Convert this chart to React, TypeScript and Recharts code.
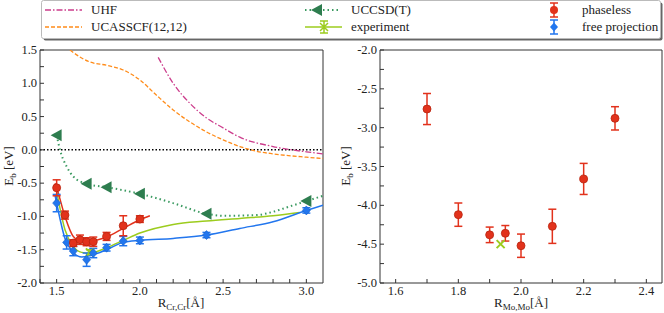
import { ComposedChart, Line, Scatter, ErrorBar, XAxis, YAxis, ReferenceLine, ReferenceArea } from 'recharts';

// ---- left panel: Cr2 ----
const phaselessR = [1.5, 1.55, 1.6, 1.64, 1.68, 1.72, 1.8, 1.9, 2.0];
const phaselessE = [-0.57, -0.98, -1.4, -1.35, -1.38, -1.38, -1.3, -1.14, -1.04];
const phaselessErr = [0.12, 0.06, 0.05, 0.07, 0.06, 0.07, 0.06, 0.15, 0.05];

const freeR = [1.5, 1.56, 1.6, 1.68, 1.72, 1.8, 1.9, 2.0, 2.4, 3.0];
const freeE = [-0.8, -1.39, -1.52, -1.65, -1.55, -1.47, -1.37, -1.36, -1.28, -0.91];
const freeErr = [0.13, 0.1, 0.07, 0.1, 0.07, 0.05, 0.07, 0.05, 0.04, 0.04];

const phaselessFitR = [1.49, 1.5, 1.55, 1.6, 1.65, 1.7, 1.8, 1.9, 2.0, 2.06];
const phaselessFitE = [-0.5, -0.57, -1.0, -1.3, -1.37, -1.37, -1.31, -1.18, -1.05, -0.99];

const freeFitR = [1.49, 1.5, 1.55, 1.6, 1.65, 1.7, 1.8, 1.9, 2.0, 2.2, 2.4, 2.6, 2.8, 3.0, 3.1];
const freeFitE = [-0.68, -0.8, -1.33, -1.54, -1.61, -1.59, -1.5, -1.39, -1.36, -1.33, -1.28, -1.18, -1.08, -0.91, -0.83];

const expFitR = [1.5, 1.55, 1.6, 1.65, 1.7, 1.8, 1.9, 2.0, 2.2, 2.4, 2.6, 2.8, 2.96];
const expFitE = [-0.62, -1.2, -1.45, -1.54, -1.55, -1.47, -1.36, -1.25, -1.12, -1.07, -1.03, -0.99, -0.94];
const expCrR = [1.7];
const expCrE = [-1.54];
const expCrErr = [0.04];

const ccsdR = [1.5, 1.68, 1.8, 2.0, 2.4, 3.0];
const ccsdE = [0.22, -0.51, -0.56, -0.66, -0.96, -0.77];
const ccsdCurveR = [1.5, 1.52, 1.56, 1.6, 1.68, 1.8, 2.0, 2.2, 2.4, 2.5, 2.7, 2.8, 2.9, 3.0, 3.1];
const ccsdCurveE = [0.22, 0.0, -0.25, -0.4, -0.51, -0.56, -0.66, -0.8, -0.96, -0.99, -0.98, -0.93, -0.85, -0.77, -0.69];

const uhfR = [2.11, 2.2, 2.3, 2.4, 2.5, 2.6, 2.8, 3.0, 3.1];
const uhfE = [1.39, 1.0, 0.7, 0.48, 0.33, 0.19, 0.05, -0.03, -0.06];

const casR = [1.58, 1.65, 1.7, 1.8, 1.9, 2.0, 2.1, 2.2, 2.3, 2.4, 2.5, 2.6, 2.7, 2.8, 3.0, 3.1];
const casE = [1.5, 1.38, 1.32, 1.27, 1.2, 1.05, 0.82, 0.6, 0.42, 0.27, 0.15, 0.05, -0.02, -0.06, -0.11, -0.13];

const crXTicks = [1.4, 1.5, 1.6, 1.7, 1.8, 1.9, 2.0, 2.1, 2.2, 2.3, 2.4, 2.5, 2.6, 2.7, 2.8, 2.9, 3.0];
const crXLabels = [1.5, 2.0, 2.5, 3.0];
const crYTicks = [-2, -1.75, -1.5, -1.25, -1, -0.75, -0.5, -0.25, 0, 0.25, 0.5, 0.75, 1, 1.25, 1.5];
const crYLabels = [-2, -1.5, -1, -0.5, 0, 0.5, 1, 1.5];

// ---- right panel: Mo2 ----
const moR = [1.7, 1.8, 1.9, 1.95, 2.0, 2.1, 2.2, 2.3];
const moE = [-2.76, -4.12, -4.38, -4.36, -4.52, -4.27, -3.66, -2.88];
const moErr = [0.2, 0.15, 0.1, 0.1, 0.15, 0.22, 0.2, 0.15];
const expMoR = [1.935];
const expMoE = [-4.5];

const moXTicks = [1.6, 1.7, 1.8, 1.9, 2.0, 2.1, 2.2, 2.3, 2.4];
const moXLabels = [1.6, 1.8, 2.0, 2.2, 2.4];
const moYTicks = [-5, -4.75, -4.5, -4.25, -4, -3.75, -3.5, -3.25, -3, -2.75, -2.5, -2.25, -2];
const moYLabels = [-5, -4.5, -4, -3.5, -3, -2.5, -2];

const RED = '#e2321c';
const BLUE = '#2276ee';
const GREEN = '#2e7d4f';
const LIME = '#9ccc1e';
const ORANGE = '#ff8c1a';
const MAGENTA = '#cc3d8c';
const FONT = '"Liberation Serif", "DejaVu Serif", serif';

const pts = (xs: number[], ys: number[], errs?: number[]) =>
  xs.map((x, i) => ({ x, y: ys[i], err: errs ? errs[i] : 0 }));

const near = (list: number[], v: number) => list.some((l) => Math.abs(l - v) < 1e-6);

const XTick = ({ x, y, payload, labels }: any) => (
  <g>
    <line x1={x} x2={x} y1={y} y2={y - 4} stroke="#333" />
    {near(labels, payload.value) && (
      <text x={x} y={y + 12} textAnchor="middle" fontSize={12.5} fontFamily={FONT} fill="#222">
        {payload.value.toFixed(1)}
      </text>
    )}
  </g>
);

const YTick = ({ x, y, payload, labels }: any) => (
  <g>
    <line x1={x} x2={x + 4} y1={y} y2={y} stroke="#333" />
    {near(labels, payload.value) && (
      <text x={x - 3} y={y + 4} textAnchor="end" fontSize={12.5} fontFamily={FONT} fill="#222">
        {payload.value.toFixed(1)}
      </text>
    )}
  </g>
);

const Circle = ({ cx, cy }: any) => <circle cx={cx} cy={cy} r={4} fill={RED} stroke="#b8240f" strokeWidth={0.8} />;
const Diamond = ({ cx, cy }: any) => (
  <path d={`M${cx},${cy - 4.5} L${cx + 4},${cy} L${cx},${cy + 4.5} L${cx - 4},${cy} Z`} fill={BLUE} stroke="#1660c8" strokeWidth={0.6} />
);
const Tri = ({ cx, cy }: any) => (
  <path d={`M${cx - 6},${cy} L${cx + 5},${cy - 6} L${cx + 5},${cy + 6} Z`} fill={GREEN} />
);
const Cross = ({ cx, cy }: any) => (
  <path d={`M${cx - 4},${cy - 4} L${cx + 4},${cy + 4} M${cx - 4},${cy + 4} L${cx + 4},${cy - 4}`} stroke={LIME} strokeWidth={2} />
);

const CrChart = () => (
  <ComposedChart width={330} height={313} margin={{ top: 50, right: 7, bottom: 0, left: 0 }}>
    <XAxis
      dataKey="x"
      type="number"
      domain={[1.4, 3.1]}
      ticks={crXTicks}
      interval={0}
      tick={<XTick labels={crXLabels} />}
      tickSize={0}
      tickMargin={0}
      axisLine={false}
      tickLine={false}
      height={30}
      allowDataOverflow
    />
    <YAxis
      type="number"
      domain={[-2, 1.5]}
      ticks={crYTicks}
      interval={0}
      tick={<YTick labels={crYLabels} />}
      tickSize={0}
      tickMargin={0}
      axisLine={false}
      tickLine={false}
      width={40}
      allowDataOverflow
    />
    <ReferenceArea x1={1.4} x2={3.1} y1={-2} y2={1.5} fill="none" stroke="#333" strokeWidth={1} />
    <ReferenceLine y={0} stroke="#000" strokeWidth={1.5} strokeDasharray="1.5 2" />
    <Line data={pts(uhfR, uhfE)} dataKey="y" type="monotone" stroke={MAGENTA} strokeWidth={1.3} strokeDasharray="6 2 1.5 2" dot={false} isAnimationActive={false} />
    <Line data={pts(casR, casE)} dataKey="y" type="monotone" stroke={ORANGE} strokeWidth={1.3} strokeDasharray="4 2" dot={false} isAnimationActive={false} />
    <Line data={pts(ccsdCurveR, ccsdCurveE)} dataKey="y" type="monotone" stroke="#3a9a60" strokeWidth={2} strokeDasharray="1.5 3" dot={false} isAnimationActive={false} />
    <Scatter data={pts(ccsdR, ccsdE)} dataKey="y" shape={<Tri />} isAnimationActive={false} />
    <Line data={pts(expFitR, expFitE)} dataKey="y" type="monotone" stroke={LIME} strokeWidth={1.5} dot={false} isAnimationActive={false} />
    <Scatter data={pts(expCrR, expCrE, expCrErr)} dataKey="y" shape={<Cross />} isAnimationActive={false}>
      <ErrorBar dataKey="err" direction="y" width={4} stroke={LIME} strokeWidth={1.5} />
    </Scatter>
    <Line data={pts(freeFitR, freeFitE)} dataKey="y" type="monotone" stroke={BLUE} strokeWidth={1.5} dot={false} isAnimationActive={false} />
    <Line data={pts(phaselessFitR, phaselessFitE)} dataKey="y" type="monotone" stroke={RED} strokeWidth={1.5} dot={false} isAnimationActive={false} />
    <Scatter data={pts(freeR, freeE, freeErr)} dataKey="y" shape={<Diamond />} isAnimationActive={false}>
      <ErrorBar dataKey="err" direction="y" width={4} stroke={BLUE} strokeWidth={1.5} />
    </Scatter>
    <Scatter data={pts(phaselessR, phaselessE, phaselessErr)} dataKey="y" shape={<Circle />} isAnimationActive={false}>
      <ErrorBar dataKey="err" direction="y" width={4} stroke={RED} strokeWidth={1.5} />
    </Scatter>
  </ComposedChart>
);

const MoChart = () => (
  <ComposedChart width={334} height={313} margin={{ top: 50, right: 2, bottom: 0, left: 0 }}>
    <XAxis
      dataKey="x"
      type="number"
      domain={[1.55, 2.45]}
      ticks={moXTicks}
      interval={0}
      tick={<XTick labels={moXLabels} />}
      tickSize={0}
      tickMargin={0}
      axisLine={false}
      tickLine={false}
      height={30}
      allowDataOverflow
    />
    <YAxis
      type="number"
      domain={[-5, -2]}
      ticks={moYTicks}
      interval={0}
      tick={<YTick labels={moYLabels} />}
      tickSize={0}
      tickMargin={0}
      axisLine={false}
      tickLine={false}
      width={50}
      allowDataOverflow
    />
    <ReferenceArea x1={1.55} x2={2.45} y1={-5} y2={-2} fill="none" stroke="#333" strokeWidth={1} />
    <Scatter data={pts(expMoR, expMoE)} dataKey="y" shape={<Cross />} isAnimationActive={false} />
    <Scatter data={pts(moR, moE, moErr)} dataKey="y" shape={<Circle />} isAnimationActive={false}>
      <ErrorBar dataKey="err" direction="y" width={4} stroke={RED} strokeWidth={1.5} />
    </Scatter>
  </ComposedChart>
);

const Overlay = () => (
  <svg width={664} height={313} style={{ position: 'absolute', left: 0, top: 0, pointerEvents: 'none' }} fontFamily={FONT}>
    {/* legend box */}
    <rect x={43.5} y={2.5} width={619} height={38} rx={2} fill="#666" />
    <rect x={41.5} y={0.5} width={619} height={38} rx={2} fill="#fff" stroke="#bbb" />
    <line x1={45} x2={82} y1={10} y2={10} stroke={MAGENTA} strokeWidth={1.3} strokeDasharray="6 2 1.5 2" />
    <text x={91} y={14} fontSize={13} fill="#222">UHF</text>
    <line x1={45} x2={82} y1={27} y2={27} stroke={ORANGE} strokeWidth={1.3} strokeDasharray="4 2" />
    <text x={91} y={31} fontSize={13} fill="#222">UCASSCF(12,12)</text>

    <line x1={305} x2={340} y1={10} y2={10} stroke="#3a9a60" strokeWidth={2} strokeDasharray="1.5 3" />
    <path d="M311,10 L322,4 L322,16 Z" fill={GREEN} />
    <text x={351} y={14} fontSize={13} fill="#222">UCCSD(T)</text>
    <line x1={305} x2={342} y1={27} y2={27} stroke={LIME} strokeWidth={1.5} />
    <path d="M320,23 L328,31 M320,31 L328,23 M324,21 L324,33 M320,21 L328,21 M320,33 L328,33" stroke={LIME} strokeWidth={1.5} />
    <text x={351} y={31} fontSize={13} fill="#222">experiment</text>

    <path d="M554,3 L554,17 M550,3 L558,3 M550,17 L558,17" stroke={RED} strokeWidth={1.5} />
    <circle cx={554} cy={10} r={4} fill={RED} />
    <text x={582} y={14} fontSize={13} fill="#222">phaseless</text>
    <path d="M554,20 L554,34 M550,20 L558,20 M550,34 L558,34" stroke={BLUE} strokeWidth={1.5} />
    <path d="M554,22.5 L558,27 L554,31.5 L550,27 Z" fill={BLUE} />
    <text x={582} y={31} fontSize={13} fill="#222">free projection</text>

    {/* axis titles */}
    <text x={181} y={307} textAnchor="middle" fontSize={13} fill="#222">
      R<tspan fontSize={9} dy={3}>Cr,Cr</tspan><tspan dy={-3}>[Å]</tspan>
    </text>
    <text x={521} y={307} textAnchor="middle" fontSize={13} fill="#222">
      R<tspan fontSize={9} dy={3}>Mo,Mo</tspan><tspan dy={-3}>[Å]</tspan>
    </text>
    <text x={13} y={166} textAnchor="middle" fontSize={13} fill="#222" transform="rotate(-90 13 166)">
      E<tspan fontSize={9} dy={3}>b</tspan><tspan dy={-3}> [eV]</tspan>
    </text>
    <text x={350} y={166} textAnchor="middle" fontSize={13} fill="#222" transform="rotate(-90 350 166)">
      E<tspan fontSize={9} dy={3}>b</tspan><tspan dy={-3}> [eV]</tspan>
    </text>
  </svg>
);

export default function App() {
  return (
    <div style={{ position: 'fixed', left: 0, top: 0, width: 664, height: 313, background: '#fff', fontFamily: FONT }}>
      <div style={{ position: 'absolute', left: 0, top: 0 }}>
        <CrChart />
      </div>
      <div style={{ position: 'absolute', left: 330, top: 0 }}>
        <MoChart />
      </div>
      <Overlay />
    </div>
  );
}
